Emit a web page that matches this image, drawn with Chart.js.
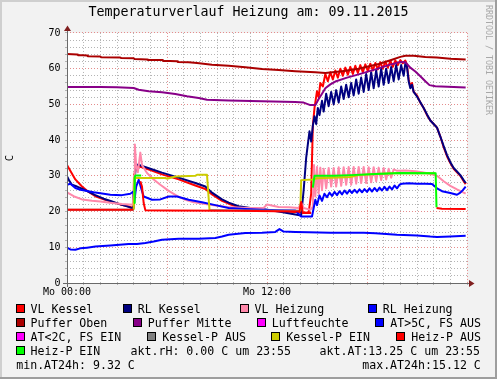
<!DOCTYPE html>
<html><head><meta charset="utf-8">
<script src="https://cdn.jsdelivr.net/npm/chart.js@4"></script>
<style>
html,body{margin:0;padding:0;background:#f2f2f2;}
#wrap{position:relative;width:497px;height:379px;background:#f2f2f2;overflow:hidden;font-family:'DejaVu Sans Mono',monospace;}
#c{position:absolute;left:0;top:0;}
.lg{position:absolute;font-size:11.6px;line-height:14px;white-space:pre;color:#000;}
.bx{position:absolute;width:7px;height:7px;border:1px solid #000;}
#wm{position:absolute;left:484px;top:5px;writing-mode:vertical-rl;font-size:8.3px;line-height:10px;color:#a8a8a8;white-space:pre;}
.sh{position:absolute;}
</style></head>
<body>
<div id="wrap">
<canvas id="c" width="497" height="379"></canvas>
<div id="legend"></div>
<div id="wm">RRDTOOL / TOBI OETIKER</div>
<div class="sh" style="left:0;top:0;width:497px;height:2px;background:#cfcfcf"></div>
<div class="sh" style="left:0;top:0;width:2px;height:379px;background:#cfcfcf"></div>
<div class="sh" style="left:0;top:377px;width:497px;height:2px;background:#9e9e9e"></div>
<div class="sh" style="left:495px;top:0;width:2px;height:379px;background:#9e9e9e"></div>
</div>
<script>
// ---- data (hour of day, value in C) ----
const TITLE = 'Temperaturverlauf Heizung am: 09.11.2015';
const xTickLabels = {0: 'Mo 00:00', 12: 'Mo 12:00'};
const yTickLabels = [0, 10, 20, 30, 40, 50, 60, 70];

const vlKessel = [[0,33.0],[0.25,31.0],[0.5,29.0],[0.9,27.0],[1.3,25.5],[1.7,24.3],[2.2,23.4],[2.7,22.7],[3.2,22.0],[3.7,21.4],[3.98,21.0],[4.05,30.5],[4.15,32.8],[4.5,32.4],[5.0,31.6],[5.7,30.4],[6.7,29.0],[7.7,27.3],[8.3,26.3],[8.7,24.8],[9.3,23.0],[9.7,22.2],[10.3,21.2],[11.0,20.6],[11.7,20.3],[12.7,20.1],[13.7,19.9],[14.5,19.7],[14.65,25],[14.75,44],[14.85,49],[15.0,53.7],[15.1,52],[15.2,56],[15.35,55],[15.5,58.5],[15.65,56.5],[15.8,59],[15.95,57],[16.1,59.5],[16.25,57.5],[16.4,60],[16.55,58],[16.7,60.3],[16.85,58.3],[17.0,60.5],[17.15,58.5],[17.3,60.8],[17.45,58.8],[17.6,61],[17.75,59],[17.9,61.2],[18.05,59.3],[18.2,61.4],[18.35,59.5],[18.5,61.6],[18.65,59.8],[18.8,61.8],[18.95,60],[19.1,62],[19.25,60.3],[19.4,62.2],[19.55,60.5],[19.7,62.3],[19.85,61],[20.0,62.4],[20.15,61.5],[20.3,62.3],[20.4,61],[20.5,57],[20.6,55],[20.7,56],[20.8,53.5],[21.0,52.5],[21.2,50.5],[21.4,49],[21.6,47],[21.8,45.5],[22.0,44.5],[22.2,43.5],[22.4,41],[22.6,38],[22.8,35.5],[23.0,33.6],[23.2,32],[23.4,31],[23.6,30],[23.8,28.5],[23.92,27.7]];

const rlKessel = [[0,29.9],[0.15,28.5],[0.3,27.5],[0.6,27.0],[0.9,26.4],[1.3,25.5],[1.7,24.6],[2.2,23.6],[2.7,22.8],[3.2,22.0],[3.7,21.3],[3.98,20.8],[4.05,29],[4.15,33.2],[4.5,32.8],[5.0,32.0],[5.7,30.9],[6.7,29.5],[7.7,28.0],[8.3,27.0],[8.7,25.3],[9.3,23.4],[9.7,22.5],[10.3,21.5],[11.0,21.0],[11.7,20.7],[12.7,20.0],[13.7,19.2],[14.05,18.9],[14.2,26],[14.35,35],[14.45,38.8],[14.55,42.5],[14.65,39.6],[14.75,44],[14.85,46.7],[14.95,44.5],[15.05,49],[15.15,47],[15.3,51],[15.4,48],[15.55,53],[15.7,49.5],[15.85,53.5],[16.0,50],[16.15,54],[16.3,50.5],[16.45,55],[16.6,51.5],[16.75,55.5],[16.9,52],[17.05,56],[17.2,52.5],[17.35,57],[17.5,53],[17.65,57.5],[17.8,53.5],[17.95,58.5],[18.1,54],[18.25,59],[18.4,54.5],[18.55,59.5],[18.7,55],[18.85,60],[19.0,55.5],[19.15,60],[19.3,56],[19.45,60.5],[19.6,56.5],[19.75,61],[19.9,57],[20.05,61],[20.2,58],[20.3,61.5],[20.4,60.5],[20.5,56.5],[20.6,54.5],[20.7,55.5],[20.8,53.5],[21.0,52.2],[21.2,50.6],[21.4,49],[21.6,47.2],[21.8,45.5],[22.0,44.5],[22.2,43.5],[22.4,41],[22.6,38.3],[22.8,35.8],[23.0,33.8],[23.2,32.2],[23.4,31.2],[23.6,30.2],[23.8,28.8],[23.92,28]];

const vlHeizung = [[0,25.4],[0.4,24.3],[0.9,23.4],[1.5,23.0],[2.0,22.8],[2.7,22.4],[3.3,22.1],[3.95,21.9],[4.02,30],[4.07,38.8],[4.15,33],[4.25,31],[4.4,36.5],[4.5,33],[4.8,30.8],[5.2,29.0],[5.6,27.5],[6.1,25.8],[6.6,24.4],[7.1,23.3],[7.6,22.6],[8.6,21.9],[9.6,21.3],[10.8,21.0],[11.8,21.0],[12.0,22.0],[12.7,21.3],[13.3,21.2],[13.9,21.0],[14.05,22.5],[14.2,21.0],[14.6,20.5],[14.75,21.4],[14.82,33],[14.9,24.2],[15.0,32.5],[15.1,25],[15.2,32.3],[15.3,26],[15.4,32],[15.55,26.5],[15.7,32.2],[15.85,27],[16.0,32.2],[16.15,27],[16.3,32.4],[16.45,27.2],[16.6,32.4],[16.75,27.5],[16.9,32.5],[17.05,27.5],[17.2,32.5],[17.35,27.8],[17.5,32.5],[17.65,28],[17.8,32.5],[17.95,28],[18.1,32.4],[18.25,28.2],[18.4,32.4],[18.55,28.5],[18.7,32.3],[18.85,28.8],[19.0,32.2],[19.15,29],[19.3,32.0],[19.45,29.5],[19.6,31.8],[19.8,31.4],[20.3,31.5],[20.9,31.3],[21.3,31.0],[21.8,30.6],[22.2,30.0],[22.6,28.5],[23.0,27.2],[23.4,26.2],[23.92,25.0]];

const rlHeizung = [[0,27.5],[0.2,27.8],[0.5,26.6],[0.8,26.1],[1.6,25.4],[2.6,24.7],[3.3,24.6],[3.8,25.0],[3.98,25.6],[4.03,22.4],[4.15,27],[4.3,28.9],[4.45,26.5],[4.6,24.2],[5.1,23.3],[5.6,23.4],[6.1,24.2],[6.6,24.2],[7.3,23.3],[8.1,22.6],[8.9,21.8],[9.7,21.0],[10.7,20.7],[11.7,20.5],[12.7,20.4],[13.7,20.3],[14.05,18.6],[14.7,18.6],[14.8,21],[14.9,23.3],[15.0,21.8],[15.15,24.5],[15.3,23.0],[15.45,25.0],[15.6,24.0],[15.75,25.3],[15.9,24.4],[16.05,25.5],[16.2,24.6],[16.35,25.7],[16.5,24.8],[16.65,25.9],[16.8,25.0],[16.95,26.0],[17.1,25.2],[17.25,26.1],[17.4,25.3],[17.55,26.2],[17.7,25.4],[17.85,26.3],[18.0,25.5],[18.15,26.5],[18.3,25.6],[18.45,26.6],[18.6,25.7],[18.75,26.7],[18.9,25.9],[19.05,26.9],[19.2,26.0],[19.35,27.0],[19.5,26.2],[19.65,27.3],[19.8,26.5],[19.95,27.5],[20.1,27.8],[20.5,27.9],[21.0,27.8],[21.5,27.8],[21.9,27.7],[22.2,26.5],[22.5,25.7],[23.0,25.2],[23.4,24.7],[23.6,25.3],[23.75,26.0],[23.92,27.0]];

const pufferOben = [[0,64.1],[0.6,64.0],[0.65,63.8],[1.2,63.7],[1.25,63.5],[2.0,63.4],[2.05,63.2],[3.2,63.1],[3.25,63.0],[4.0,62.9],[4.05,62.7],[4.8,62.6],[4.85,62.4],[5.7,62.4],[5.75,62.2],[6.6,62.1],[6.65,61.9],[7.3,61.8],[7.8,61.6],[8.7,61.1],[9.7,60.8],[10.7,60.4],[11.7,59.9],[12.7,59.6],[13.7,59.3],[14.9,59.0],[15.5,58.8],[16.5,59.3],[17.5,60.0],[18.7,61.3],[19.5,62.5],[20.0,63.3],[20.3,63.6],[20.8,63.6],[21.5,63.3],[22.2,63.1],[23.0,62.8],[23.92,62.6]];

const pufferMitte = [[0,54.9],[2.0,54.9],[3.0,54.8],[4.0,54.6],[4.3,54.1],[4.9,53.7],[5.7,53.4],[6.5,52.9],[7.2,52.3],[7.9,51.8],[8.4,51.3],[9.7,51.1],[11.7,50.9],[13.7,50.7],[14.2,50.5],[14.6,49.8],[14.9,49.8],[15.1,51.5],[15.3,53.0],[15.5,54.5],[15.8,55.6],[16.1,56.4],[16.8,57.5],[17.5,58.4],[18.5,59.8],[19.3,61.0],[20.0,61.9],[20.3,61.8],[20.6,60.3],[20.9,59.2],[21.2,57.9],[21.5,56.5],[21.75,55.4],[22.1,55.1],[23.2,54.9],[23.92,54.7]];

const luftfeuchte = [];
const atHigh = [[0,9.9],[0.2,9.4],[0.5,9.3],[0.8,9.7],[1.2,9.9],[1.7,10.2],[2.6,10.5],[3.7,10.9],[4.2,10.9],[4.7,11.2],[5.2,11.6],[5.7,12.1],[6.7,12.4],[7.9,12.4],[8.9,12.6],[9.3,13.0],[9.7,13.5],[10.7,14.0],[11.7,14.1],[12.5,14.3],[12.75,15.1],[13.0,14.4],[13.7,14.3],[14.5,14.2],[15.8,14.1],[17.8,14.1],[18.5,13.9],[19.8,13.5],[21.0,13.3],[21.8,13.0],[22.2,12.9],[23.0,13.0],[23.92,13.2]];
const atLow = [];

const kesselPAus = [[0,20.5],[4.0,20.5],[4.05,null],[8.55,20.4],[14.0,20.2],[14.05,null]];
const kesselPEin = [[4.0,20.5],[4.05,29.4],[5.9,29.4],[6.0,29.2],[6.5,29.8],[7.7,30.0],[7.8,30.3],[8.4,30.3],[8.55,20.4],[8.6,null],[14.0,20.2],[14.05,28.8],[14.75,29.0],[15.0,29.3],[17.0,29.7],[17.5,30.2],[18.5,30.5],[20.0,30.8],[22.1,30.7],[22.15,null]];
const heizPAus = [[0,20.5],[3.98,20.5],[4.0,null],[4.4,28.5],[4.5,27],[4.6,22.4],[4.7,20.4],[6.0,20.3],[10.0,20.2],[13.95,20.0],[14.05,22.7],[14.15,19.6],[14.65,19.6],[14.7,null],[22.17,21.0],[22.5,20.8],[23.92,20.7]];
const heizPEin = [[4.02,22.4],[4.06,29.5],[4.1,30.1],[4.45,30.1],[4.5,null],[14.75,26.7],[14.85,30.0],[16.0,30.0],[17.0,30.2],[18.5,30.5],[20.0,30.8],[22.12,30.7],[22.17,21.2],[22.2,null]];

const seriesLabels = ['VL Kessel','RL Kessel','VL Heizung','RL Heizung','Puffer Oben','Puffer Mitte','Luftfeuchte','AT>5C, FS AUS','AT<2C, FS EIN','Kessel-P AUS','Kessel-P EIN','Heiz-P AUS','Heiz-P EIN'];
const seriesData = [vlKessel, rlKessel, vlHeizung, rlHeizung, pufferOben, pufferMitte, luftfeuchte, atHigh, atLow, kesselPAus, kesselPEin, heizPAus, heizPEin];
const legendTexts = ['akt.rH: 0.00 C um 23:55', 'akt.AT:13.25 C um 23:55', 'min.AT24h: 9.32 C', 'max.AT24h:15.12 C'];

// ---- styles / layout ----
const seriesColors = ['#ff0000','#000080','#ff88aa','#0000ff','#aa0000','#880088','#ff00ff','#0000ff','#ff00ff','#808080','#cccc00','#ff0000','#00ff00'];
const FONT = 'DejaVu Sans Mono';
const MINOR = '#b4b4b4', MAJOR = '#e48c8c', AXIS = '#6a6a6a', ARROW = '#801f1f';
const rowTop = [302.3, 316.3, 330.1, 344.3, 358.1];
const legendSlots = [[0,31],[0,138.3],[0,255],[0,383.3],[1,31],[1,148.3],[1,272.3],[1,390.7],[2,31],[2,162.7],[2,286.7],[2,411.7],[3,31]];
const textSlots = [[3,131],[3,320],[4,16.7],[4,362.7]];

const datasets = seriesData.map((d, i) => ({
  label: seriesLabels[i],
  data: d.map(p => ({x: p[0], y: p[1]})),
  borderColor: seriesColors[i],
  backgroundColor: seriesColors[i],
  borderWidth: 2,
  pointRadius: 0,
  tension: 0,
  fill: false,
  spanGaps: false,
  borderJoinStyle: 'round',
  order: -i
}));

const framePlugin = {
  id: 'frame',
  beforeDraw(chart) {
    const {ctx, chartArea: a} = chart;
    ctx.save();
    ctx.fillStyle = '#ffffff';
    ctx.fillRect(a.left, a.top, a.right - a.left, a.bottom - a.top);
    ctx.restore();
  },
  afterDraw(chart) {
    const {ctx, chartArea: a} = chart;
    const x0 = Math.round(a.left) + 0.5, y0 = Math.round(a.bottom) + 0.5;
    ctx.save();
    ctx.strokeStyle = AXIS; ctx.lineWidth = 1;
    ctx.beginPath();
    ctx.moveTo(x0, a.bottom + 4); ctx.lineTo(x0, a.top - 4);
    ctx.moveTo(a.left - 4, y0); ctx.lineTo(a.right + 4, y0);
    ctx.stroke();
    ctx.fillStyle = ARROW;
    ctx.beginPath();
    ctx.moveTo(x0 - 3.5, a.top - 2); ctx.lineTo(x0 + 3.5, a.top - 2); ctx.lineTo(x0, a.top - 7.5); ctx.closePath(); ctx.fill();
    ctx.beginPath();
    ctx.moveTo(a.right + 2, y0 - 3.5); ctx.lineTo(a.right + 2, y0 + 3.5); ctx.lineTo(a.right + 7.5, y0); ctx.closePath(); ctx.fill();
    ctx.restore();
  }
};

const chart = new Chart(document.getElementById('c'), {
  type: 'line',
  data: {datasets},
  options: {
    responsive: false, animation: false, devicePixelRatio: 1,
    layout: {padding: {left: 0, right: 0, top: 0, bottom: 74}},
    plugins: {
      legend: {display: false}, tooltip: {enabled: false},
      title: {display: true, text: TITLE, color: '#000', font: {family: FONT, size: 13.3, weight: 'normal', lineHeight: 1.2}, padding: {top: 5, bottom: 12}}
    },
    scales: {
      x: {
        type: 'linear', min: 0, max: 24,
        afterFit(s) { s.height = 22; },
        ticks: {stepSize: 1, autoSkip: false, maxRotation: 0, padding: 1, color: '#000', font: {family: FONT, size: 10},
          callback: v => xTickLabels[v] || ''},
        grid: {color: c => (c.tick && c.tick.value % 6 === 0) ? MAJOR : MINOR, lineWidth: 1, tickLength: 2, tickColor: MINOR},
        border: {display: false, dash: [1, 2]}
      },
      y: {
        min: 0, max: 70,
        afterFit(s) { s.width = 67; },
        ticks: {stepSize: 2, autoSkip: false, padding: 4.5, color: '#000', font: {family: FONT, size: 10},
          callback: v => yTickLabels.includes(v) ? String(v) : ''},
        grid: {color: c => (c.tick && c.tick.value % 10 === 0) ? MAJOR : MINOR, lineWidth: 1, tickLength: 2, tickColor: MINOR},
        border: {display: false, dash: [1, 2]},
        title: {display: true, text: 'C', color: '#000', font: {family: FONT, size: 10.5}, padding: {top: 4.4, bottom: 0}}
      },
      yR: {
        position: 'right', display: true,
        afterFit(s) { s.width = 30; },
        ticks: {display: false}, grid: {display: false}, border: {display: false}
      }
    }
  },
  plugins: [framePlugin]
});

// ---- legend (RRDtool style), built from the chart's datasets ----
const lg = document.getElementById('legend');
chart.data.datasets.forEach((ds, i) => {
  const [row, tx] = legendSlots[i];
  const b = document.createElement('div');
  b.className = 'bx';
  b.style.left = (tx - 15.5) + 'px';
  b.style.top = (rowTop[row] + 1.7) + 'px';
  b.style.background = ds.borderColor;
  lg.appendChild(b);
  const t = document.createElement('div');
  t.className = 'lg';
  t.style.left = (tx - 0.5) + 'px';
  t.style.top = rowTop[row] + 'px';
  t.textContent = ds.label;
  lg.appendChild(t);
});
legendTexts.forEach((s, i) => {
  const [row, tx] = textSlots[i];
  const t = document.createElement('div');
  t.className = 'lg';
  t.style.left = (tx - 0.5) + 'px';
  t.style.top = rowTop[row] + 'px';
  t.textContent = s;
  lg.appendChild(t);
});
</script>
</body></html>
